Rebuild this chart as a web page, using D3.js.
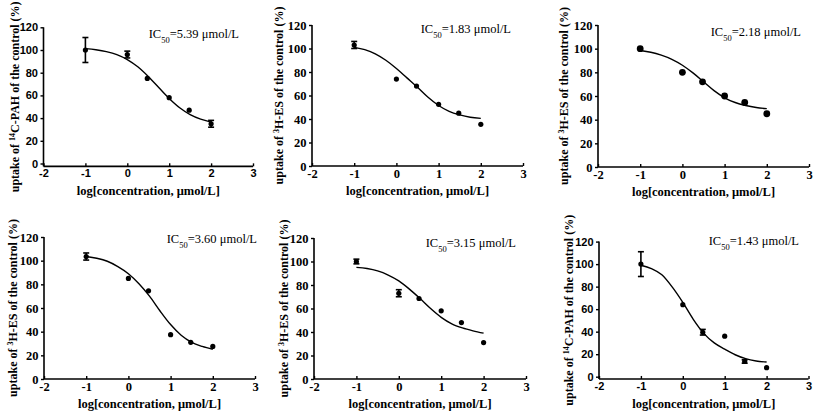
<!DOCTYPE html>
<html><head><meta charset="utf-8">
<script src="https://cdn.jsdelivr.net/npm/d3@7/dist/d3.min.js"></script>
<style>
html,body{margin:0;padding:0;background:#fff;}
svg{display:block;}
</style></head>
<body>
<script>
// ---------- data ----------
const xTicks = [-2, -1, 0, 1, 2, 3];
const yTicks = [0, 20, 40, 60, 80, 100, 120];
const concLog = [-1, 0, 0.477, 1, 1.477, 2];
const curveX = [-1, -0.75, -0.5, -0.25, 0, 0.25, 0.5, 0.75, 1, 1.25, 1.5, 1.75, 2];

const tracers = ["14C-PAH", "3H-ES", "3H-ES", "3H-ES", "3H-ES", "14C-PAH"];
const ic50 = ["5.39", "1.83", "2.18", "3.60", "3.15", "1.43"];

const uptake1 = [100, 96, 75, 58, 47, 35];
const uptake2 = [103, 74, 68, 52.5, 45, 35.5];
const uptake3 = [100, 80, 72, 60, 54.5, 45];
const uptake4 = [103.5, 85, 74.5, 37.5, 31, 27.5];
const uptake5 = [100, 73, 68.5, 58, 48, 31];
const uptake6 = [100, 64, 39.5, 36, 13.5, 8];

const err1 = [11, 3, 0, 0, 0, 3];
const err2 = [3, 0, 0, 0, 0, 0];
const err3 = [0, 0, 0, 0, 0, 0];
const err4 = [3, 0, 0, 0, 0, 0];
const err5 = [2, 3, 0, 0, 0, 0];
const err6 = [11, 0, 2.5, 0, 1.5, 0];

const fit1 = [101.2, 100.2, 98.6, 96, 91.6, 85.2, 76.7, 67, 57.3, 49.1, 43.1, 39.1, 36.5];
const fit2 = [101, 99, 95.5, 90, 83, 75, 67, 58.5, 51.5, 46.5, 43.5, 41.5, 40.5];
const fit3 = [98.5, 97, 94.5, 91, 86, 79.5, 72, 64.5, 58.5, 54.5, 52, 50.3, 49.3];
const fit4 = [103.5, 102, 99.5, 95, 89, 80.5, 70, 57.5, 46, 37, 31, 27.5, 25];
const fit5 = [95, 94, 92, 88.5, 83.5, 76.5, 68.5, 60, 52.5, 47, 43.5, 41, 39];
const fit6 = [99, 96, 90.5, 79.5, 66, 51, 38.5, 30, 24.5, 19.5, 16, 14, 13];

const uptakes = [uptake1, uptake2, uptake3, uptake4, uptake5, uptake6];
const errs = [err1, err2, err3, err4, err5, err6];
const fits = [fit1, fit2, fit3, fit4, fit5, fit6];

// ---------- layout ----------
const layout = [
  {x0: 43.5, x1: 253, yTop: 27.3, yZero: 163.5, yMin: -2.5, tx: 15, icX: 239, icY: 38, sans: true, r: 2.6},
  {x0: 312, x1: 523, yTop: 25, yZero: 166, yMin: 0, tx: 279, icX: 511, icY: 33, sans: false, r: 2.6},
  {x0: 598, x1: 809, yTop: 25, yZero: 167, yMin: 0, tx: 564, icX: 801, icY: 36, sans: false, r: 3.4},
  {x0: 44, x1: 255, yTop: 237, yZero: 379, yMin: 0, tx: 13, icX: 257, icY: 243, sans: false, r: 2.6},
  {x0: 314, x1: 526, yTop: 238, yZero: 379, yMin: 0, tx: 284, icX: 516, icY: 247, sans: false, r: 2.6},
  {x0: 599, x1: 808.5, yTop: 241.6, yZero: 376.7, yMin: -2, tx: 569, icX: 799, icY: 245, sans: true, r: 2.6}
];

const W = 813, H = 412;
const svg = d3.select("body").append("svg").attr("width", W).attr("height", H);
const serif = "Liberation Serif";
const sans = "Liberation Sans";
const tickFmt = d => String(d);

layout.forEach((L, i) => {
  const x = d3.scaleLinear().domain([-2, 3]).range([L.x0, L.x1]);
  const pxPerUnit = (L.yZero - L.yTop) / 120;
  const y = d3.scaleLinear().domain([L.yMin, 120]).range([L.yZero - L.yMin * pxPerUnit, L.yTop]);
  const g = svg.append("g");
  const yBase = y(L.yMin);
  const tf = L.sans ? sans : serif;
  const ts = L.sans ? 11 : 12.5;

  const xa = g.append("g").attr("transform", `translate(0,${yBase})`)
    .call(d3.axisBottom(x).tickValues(xTicks).tickFormat(tickFmt)
      .tickSizeInner(-3).tickSizeOuter(0).tickPadding(4));
  const ya = g.append("g").attr("transform", `translate(${L.x0},0)`)
    .call(d3.axisLeft(y).tickValues(yTicks).tickFormat(tickFmt)
      .tickSizeInner(3).tickSizeOuter(0).tickPadding(2.5));
  [xa, ya].forEach(a => {
    a.attr("font-family", tf).attr("font-size", ts).attr("font-weight", "bold");
    a.select(".domain").attr("stroke", "#000").attr("stroke-width", 1.6);
    a.selectAll(".tick line").attr("stroke", "#000").attr("stroke-width", 1.4);
    a.selectAll(".tick text").attr("fill", "#000")
      .attr("font-family", tf).attr("font-size", ts).attr("font-weight", "bold");
  });
  xa.selectAll(".tick text").attr("y", 3);
  ya.select(".domain").attr("d", `M0,${yBase}V${L.yTop}`);
  xa.select(".domain").attr("d", `M${L.x0},0H${L.x1}`);

  // axis titles
  g.append("text")
    .attr("x", (L.x0 + L.x1) / 2).attr("y", yBase + 29)
    .attr("text-anchor", "middle")
    .attr("font-family", serif).attr("font-weight", "bold").attr("font-size", 12.5)
    .text("log[concentration, \u03bcmol/L]");

  const tr = tracers[i];
  const sup = tr.match(/^\d+/)[0];
  const rest = tr.slice(sup.length);
  const yt = g.append("text")
    .attr("transform", `translate(${L.tx},${(L.yTop + yBase) / 2}) rotate(-90)`)
    .attr("text-anchor", "middle").attr("dy", "0.35em")
    .attr("font-family", serif).attr("font-weight", "bold").attr("font-size", 12);
  yt.append("tspan").text("uptake of ");
  yt.append("tspan").attr("baseline-shift", "super").attr("font-size", 8).text(sup);
  yt.append("tspan").text(rest + " of the control (%)");

  // IC50 label
  const ic = g.append("text").attr("x", L.icX).attr("y", L.icY).attr("text-anchor", "end")
    .attr("font-family", serif).attr("font-size", 12.5);
  ic.append("tspan").text("IC");
  ic.append("tspan").attr("baseline-shift", "sub").attr("font-size", 8.5).text("50");
  ic.append("tspan").text("=" + ic50[i] + " \u03bcmol/L");

  // fitted curve
  const line = d3.line().x((d, k) => x(curveX[k])).y(d => y(d)).curve(d3.curveMonotoneX);
  g.append("path").attr("d", line(fits[i])).attr("fill", "none")
    .attr("stroke", "#000").attr("stroke-width", 1.4);

  // error bars
  const pts = concLog.map((c, k) => ({c, v: uptakes[i][k], e: errs[i][k]}));
  pts.filter(p => p.e > 0).forEach(p => {
    const cx = x(p.c);
    g.append("line").attr("x1", cx).attr("x2", cx).attr("y1", y(p.v - p.e)).attr("y2", y(p.v + p.e))
      .attr("stroke", "#000").attr("stroke-width", 1.6);
    [p.v - p.e, p.v + p.e].forEach(v => {
      g.append("line").attr("x1", cx - 3).attr("x2", cx + 3).attr("y1", y(v)).attr("y2", y(v))
        .attr("stroke", "#000").attr("stroke-width", 1.6);
    });
  });
  // points
  g.selectAll("circle.pt").data(pts).enter().append("circle")
    .attr("cx", p => x(p.c)).attr("cy", p => y(p.v)).attr("r", L.r).attr("fill", "#000");
});
</script>
</body></html>
